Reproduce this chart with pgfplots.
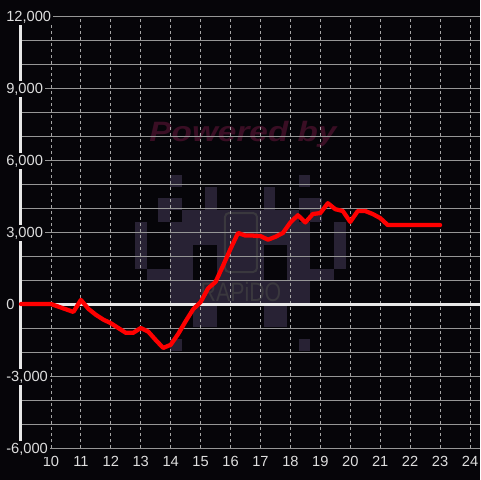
\documentclass[border=0pt]{standalone}
\usepackage{pgfplots}
\pgfplotsset{compat=1.18}
\usepackage{fontspec}
\setmainfont{Liberation Sans}
\definecolor{bg}{RGB}{6,5,9}
\definecolor{logo}{RGB}{40,34,52}
\definecolor{logoline}{RGB}{58,56,62}
\definecolor{wm}{RGB}{58,14,36}
\definecolor{gridgray}{RGB}{150,150,150}
\definecolor{dotgray}{RGB}{165,165,165}
\definecolor{labgray}{RGB}{222,222,222}
\definecolor{axwhite}{RGB}{232,232,232}
\newcommand\blk[4]{\fill[logo] ({135+11.7*#1},{175+11.7*#3}) rectangle ({135+11.7*(#2+1)},{175+11.7*(#4+1)});}
\begin{document}
\begin{tikzpicture}
\useasboundingbox (0,0) rectangle (360pt,360pt);
\fill[bg] (0,0) rectangle (360pt,360pt);
\begin{scope}[shift={(0,360pt)}, x=0.75pt, y=-0.75pt]
\blk{3}{3}{0}{0} \blk{14}{14}{0}{0}
\blk{6}{6}{1}{2} \blk{11}{11}{1}{2}
\blk{2}{3}{2}{2} \blk{14}{15}{2}{2}
\blk{2}{2}{3}{3} \blk{15}{15}{3}{3}
\blk{4}{13}{3}{3}
\blk{0}{0}{4}{7} \blk{17}{17}{4}{7}
\blk{3}{14}{4}{5}
\blk{3}{4}{6}{7} \blk{7}{10}{6}{7} \blk{13}{14}{6}{7}
\blk{1}{4}{8}{8} \blk{7}{10}{8}{8} \blk{13}{16}{8}{8}
\blk{3}{14}{9}{10}
\blk{5}{6}{11}{12} \blk{11}{12}{11}{12}
\blk{3}{3}{14}{14} \blk{14}{14}{14}{14}
\draw[logoline, line width=1.5pt, rounded corners=3] (225,213) rectangle (257,272);
\node[logoline, font=\fontsize{20}{22}\selectfont, xscale=0.8, inner sep=0] at (241,292) {RAPiDO};
\node[wm, font=\fontsize{21}{24}\selectfont\bfseries\itshape, xscale=1.19, inner sep=0] at (243,134) {Powered by};
\end{scope}
\begin{axis}[
  at={(15.75pt,24pt)}, anchor=south west,
  scale only axis, width=344.25pt, height=324pt,
  xmin=9, xmax=24.3333, ymin=-6000, ymax=12000,
  clip=false,
  scaled y ticks=false, scaled x ticks=false,
  axis y line*=left, axis x line*=bottom,
  y axis line style={draw=axwhite, line width=2.25pt},
  x axis line style={draw=none},
  major tick length=0pt, minor tick length=0pt,
  xtick={10,11,...,24},
  ytick={-6000,-3000,0,3000,6000,9000,12000},
  yticklabels={{-6,000},{-3,000},{0},{3,000},{6,000},{9,000},{12,000}},
  minor ytick={-5000,-4000,-2000,-1000,1000,2000,4000,5000,7000,8000,10000,11000},
  ymajorgrids, yminorgrids, xmajorgrids,
  major y grid style={gridgray, line width=0.75pt},
  minor y grid style={gridgray, line width=0.75pt},
  major x grid style={dotgray, line width=0.6pt, dash pattern=on 2.25pt off 2.25pt},
  extra y ticks={0}, extra y tick labels={},
  extra y tick style={major y grid style={axwhite, line width=2.25pt}, yticklabel style={fill=none}},
  /pgf/number format/assume math mode=true,
  tick label style={font=\fontsize{11}{13}\selectfont, text=labgray},
  yticklabel style={anchor=base west, xshift=-12.75pt, yshift=-3.94pt, fill=bg, inner sep=1.5pt},
  xticklabel style={anchor=base, yshift=-13.5pt},
]
\addplot[color=red, line width=3.2pt, line join=round, line cap=round] coordinates {
(9.0,0) (10.0,0) (10.75,-330) (11.0,170) (11.25,-200) (11.5,-450) (11.75,-650)
(12.0,-800) (12.25,-1000) (12.5,-1200) (12.75,-1200) (13.0,-1000) (13.25,-1150)
(13.5,-1500) (13.75,-1830) (14.0,-1700) (14.25,-1250) (14.5,-720) (14.75,-220)
(15.0,80) (15.25,650) (15.5,920) (15.75,1600) (16.0,2300) (16.25,2960)
(16.5,2850) (16.75,2850) (17.0,2830) (17.25,2680) (17.5,2800) (17.75,2960)
(18.0,3400) (18.25,3700) (18.5,3400) (18.75,3750) (19.0,3790) (19.25,4200)
(19.5,3950) (19.75,3875) (20.0,3420) (20.25,3875) (20.5,3875) (20.75,3750)
(21.0,3580) (21.25,3290) (21.5,3290) (21.75,3290) (22.0,3290) (22.25,3290)
(22.5,3290) (22.75,3290) (23.0,3290)
};
\end{axis}
\end{tikzpicture}
\end{document}
